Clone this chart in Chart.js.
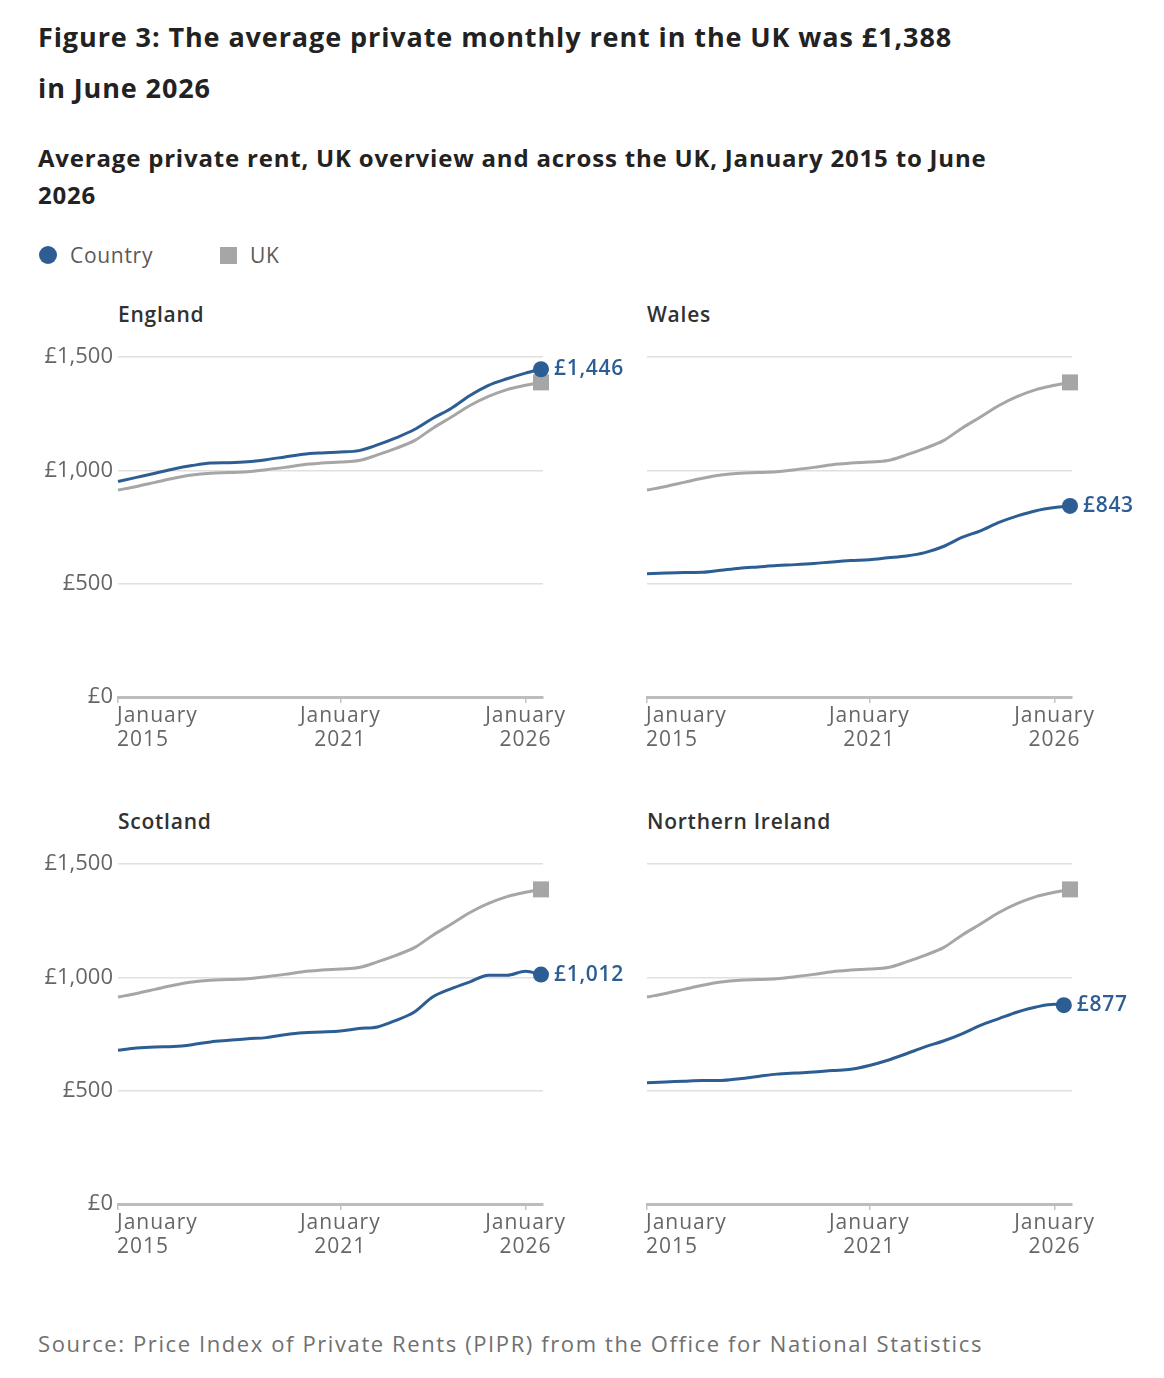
<!DOCTYPE html>
<html>
<head>
<meta charset="utf-8">
<script src="https://cdn.jsdelivr.net/npm/chart.js@4.4.1/dist/chart.umd.min.js"></script>
<style>
  html, body { margin:0; padding:0; background:#fff; width:1164px; height:1378px; overflow:hidden; }
  body { position:relative; font-family:"Open Sans", sans-serif; }
  .abs { position:absolute; white-space:nowrap; }
  #title { left:38px; top:11px; font-size:27px; font-weight:700; line-height:51px; color:#222; letter-spacing:0.9px; }
  #subtitle { left:38px; top:139px; font-size:24px; font-weight:700; line-height:37px; color:#222; letter-spacing:0.8px; }
  .leg { top:242px; font-size:21px; color:#5a5a5a; line-height:26px; letter-spacing:0.7px; }
  .dot { left:39px; top:246px; width:18px; height:18px; border-radius:50%; background:#2c5d93; }
  .sq { left:220px; top:247px; width:17px; height:17px; background:#a6a6a6; }
  .ptitle { font-size:21px; font-weight:600; color:#323132; line-height:26px; letter-spacing:0.75px; }
  #source { left:38px; top:1329px; font-size:22px; color:#707070; line-height:28px; letter-spacing:1.6px; }
  canvas { position:absolute; }
</style>
</head>
<body>
<div id="title" class="abs">Figure 3: The average private monthly rent in the UK was £1,388<br>in June 2026</div>
<div id="subtitle" class="abs">Average private rent, UK overview and across the UK, January 2015 to June<br>2026</div>
<div class="abs dot"></div><div class="abs leg" style="left:70px;">Country</div>
<div class="abs sq"></div><div class="abs leg" style="left:250px;">UK</div>

<div class="abs ptitle" style="left:118px; top:301px;">England</div>
<div class="abs ptitle" style="left:647px; top:301px;">Wales</div>
<div class="abs ptitle" style="left:118px; top:808px;">Scotland</div>
<div class="abs ptitle" style="left:647px; top:808px;">Northern Ireland</div>

<div class="abs" style="left:0;top:330px;width:640px;height:440px;"><canvas id="c0" width="640" height="440" style="left:0;top:0;width:640px;height:440px;"></canvas></div>
<div class="abs" style="left:529px;top:330px;width:635px;height:440px;"><canvas id="c1" width="635" height="440" style="left:0;top:0;width:635px;height:440px;"></canvas></div>
<div class="abs" style="left:0;top:837px;width:640px;height:440px;"><canvas id="c2" width="640" height="440" style="left:0;top:0;width:640px;height:440px;"></canvas></div>
<div class="abs" style="left:529px;top:837px;width:635px;height:440px;"><canvas id="c3" width="635" height="440" style="left:0;top:0;width:635px;height:440px;"></canvas></div>

<div id="source" class="abs">Source: Price Index of Private Rents (PIPR) from the Office for National Statistics</div>

<script>
// Months since January 2015 (semi-annual readings plus the latest month)
const months = [0,6,12,18,24,30,36,42,48,54,60,66,72,78,84,90,96,102,108,114,120,126,132,137];
const monthsNI = [0,6,12,18,24,30,36,42,48,54,60,66,72,78,84,90,96,102,108,114,120,126,132,135];

// Tick positions and labels (x axis)
const xTickMonths = [0, 72, 132];
const xTickLabels = [["January","2015"],["January","2021"],["January","2026"]];
const yTicks = [0, 500, 1000, 1500];

// Average monthly rent (£)
const ukRent       = [913,929,947,965,979,987,990,994,1003,1013,1025,1032,1037,1043,1068,1097,1131,1186,1235,1286,1326,1356,1375,1388];
const englandRent  = [951,969,987,1006,1021,1032,1034,1038,1047,1059,1071,1077,1081,1087,1112,1143,1180,1230,1274,1330,1375,1404,1429,1446];
const walesRent    = [544,547,549,550,559,568,574,580,584,589,596,602,606,614,622,637,664,704,733,770,799,822,836,843];
const scotlandRent = [678,688,693,695,703,715,722,729,734,747,756,759,763,774,781,810,847,914,950,980,1009,1009,1027,1012];
const niRent       = [535,538,542,545,545,553,563,573,578,582,589,594,611,634,663,693,719,751,788,818,847,869,881,877];

const BLUE = '#2c5d93';
const GREY = '#a6a6a6';

Chart.defaults.font.family = '"Open Sans", sans-serif';
Chart.defaults.animation = false;

const xLabelPlugin = {
  id: 'xLabelPlugin',
  afterDraw(chart) {
    const sc = chart.scales.x;
    const ctx = chart.ctx;
    ctx.save();
    ctx.font = '21px "Open Sans", sans-serif';
    try { ctx.letterSpacing = '1px'; } catch (e) {}
    ctx.fillStyle = '#666666';
    ctx.textBaseline = 'middle';
    xTickMonths.forEach((m, i) => {
      const px = sc.getPixelForValue(m);
      ctx.textAlign = i === 0 ? 'left' : 'center';
      const x0 = i === 0 ? px - 1 : px;
      ctx.fillText(xTickLabels[i][0], x0, chart.chartArea.bottom + 19);
      ctx.fillText(xTickLabels[i][1], x0, chart.chartArea.bottom + 43);
    });
    ctx.restore();
  }
};

const endLabelPlugin = {
  id: 'endLabelPlugin',
  afterDatasetsDraw(chart) {
    const meta = chart.getDatasetMeta(0);
    const ds = chart.data.datasets[0];
    const last = meta.data[meta.data.length - 1];
    const val = ds.data[ds.data.length - 1].y;
    const ctx = chart.ctx;
    ctx.save();
    ctx.font = '600 21px "Open Sans", sans-serif';
    try { ctx.letterSpacing = '0.7px'; } catch (e) {}
    ctx.fillStyle = BLUE;
    ctx.textAlign = 'left';
    ctx.textBaseline = 'middle';
    ctx.fillText('£' + val.toLocaleString('en-GB'), last.x + 13, last.y);
    ctx.restore();
  }
};

function makePanel(id, xs, country, showY) {
  const n = xs.length;
  const countryPts = xs.map((m, i) => ({x: m, y: country[i]}));
  const ukPts = months.map((m, i) => ({x: m, y: ukRent[i]}));
  const canvas = document.getElementById(id);
  return new Chart(canvas, {
    type: 'line',
    data: {
      datasets: [
        {
          label: 'Country', data: countryPts, borderColor: BLUE, backgroundColor: BLUE,
          borderWidth: 3, cubicInterpolationMode: 'monotone', clip: false,
          pointStyle: 'circle', pointBorderWidth: 0,
          pointRadius: c => c.dataIndex === n - 1 ? 8 : 0
        },
        {
          label: 'UK', data: ukPts, borderColor: GREY, backgroundColor: GREY,
          borderWidth: 3, cubicInterpolationMode: 'monotone', clip: false,
          pointStyle: 'rect', pointBorderWidth: 0,
          pointRadius: c => c.dataIndex === months.length - 1 ? 11.3 : 0
        }
      ]
    },
    options: {
      responsive: false,
      maintainAspectRatio: false,
      layout: { padding: { top: 27, right: canvas.width - 543, bottom: 0, left: 0 } },
      plugins: { legend: { display: false }, tooltip: { enabled: false } },
      scales: {
        x: {
          type: 'linear', min: 0, max: 137.65,
          afterBuildTicks: s => { s.ticks = xTickMonths.map(v => ({value: v})); },
          afterFit: s => { s.height = 73; },
          ticks: { display: false },
          grid: { display: true, drawOnChartArea: false, drawTicks: true, tickLength: 6, color: '#c4c4c4', lineWidth: 1.5 },
          border: { display: true, color: '#bdbdbd', width: 3 }
        },
        y: {
          min: 0, max: 1500,
          afterBuildTicks: s => { s.ticks = yTicks.map(v => ({value: v})); },
          afterFit: s => { s.width = 118; },
          ticks: {
            display: showY, padding: 5, color: '#666666',
            font: { size: 22 },
            callback: v => '£' + Number(v).toLocaleString('en-GB')
          },
          grid: { color: c => c.tick && c.tick.value === 0 ? 'rgba(0,0,0,0)' : '#e0e0e0', lineWidth: 1.5, drawTicks: false },
          border: { display: false }
        }
      }
    },
    plugins: [xLabelPlugin, endLabelPlugin]
  });
}

makePanel('c0', months, englandRent, true);
makePanel('c1', months, walesRent, false);
makePanel('c2', months, scotlandRent, true);
makePanel('c3', monthsNI, niRent, false);
</script>
</body>
</html>
